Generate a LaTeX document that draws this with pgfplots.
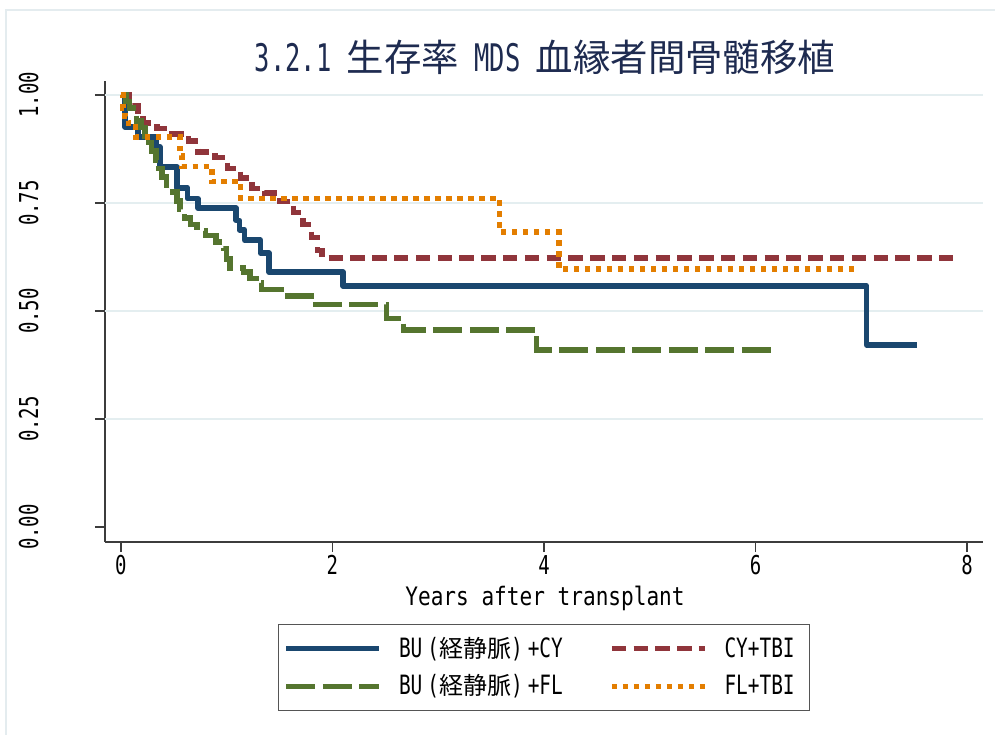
\documentclass[border=0pt]{standalone}
\usepackage{fontspec}
\usepackage{pgfplots}
\pgfplotsset{compat=1.18}
\setmainfont{DejaVu Sans Mono}[FakeStretch=0.83]
\newfontfamily\mono{DejaVu Sans Mono}[FakeStretch=0.83]
\newfontfamily\monob{DejaVu Sans Mono}[FakeStretch=0.73]
\newfontfamily\monoc{DejaVu Sans Mono}[FakeStretch=0.67]
\newfontfamily\cjk{Noto Sans CJK JP}
\definecolor{sblue}{HTML}{1A476F}
\definecolor{sred}{HTML}{90353B}
\definecolor{sgreen}{HTML}{55752F}
\definecolor{sorange}{HTML}{E37E00}
\definecolor{gridcol}{HTML}{E4EEF0}
\definecolor{framecol}{HTML}{E4ECEF}
\definecolor{axcol}{HTML}{3C3C3C}
\definecolor{legcol}{HTML}{555555}
\definecolor{titlecol}{HTML}{1E2B50}
\newcommand\tickfont{\monob\fontsize{13}{15}\selectfont}
\newcommand\legfont{\monob\fontsize{13.3}{15}\selectfont}
\newcommand\lcjk[1]{{\cjk\fontsize{12}{14}\selectfont #1}}
\newcommand\legstrut{\rule[-3.5pt]{0pt}{11.5pt}}
\begin{document}
\begin{tikzpicture}[x=1pt,y=1pt]
\path[use as bounding box] (0,0) rectangle (497.5,367.5);
\draw[framecol, line width=1pt] (3,0) -- (3,362.5) -- (497.5,362.5);
\begin{axis}[
  at={(52.5pt,96.5pt)}, anchor=south west,
  scale only axis, width=439pt, height=230.5pt,
  xmin=-0.15, xmax=8.15, ymin=-0.0347, ymax=1.0324,
  axis x line*=bottom, axis y line*=left,
  axis line style={draw=axcol, line width=0.75pt, -},
  every tick/.style={draw=axcol, line width=0.75pt},
  tick align=outside, major tick length=5pt,
  xtick={0,2,4,6,8}, xticklabels={0,2,4,6,8},
  ytick={0,0.25,0.5,0.75,1}, yticklabels={0.00,0.25,0.50,0.75,1.00},
  extra y ticks={0.25,0.5,0.75,1}, extra y tick labels={},
  extra y tick style={grid=major, major tick length=0pt},
  grid style={draw=gridcol, line width=1pt},
  /pgf/number format/assume math mode=true,
  ticklabel style={font=\tickfont},
  yticklabel style={rotate=90, anchor=south, inner sep=0pt},
  xticklabel style={inner sep=0pt},
  yticklabel shift=28pt,
  xticklabel shift=1.5pt,
  legend columns=2,
  legend style={at={(0.5,-0.178)}, anchor=north, draw=legcol, line width=0.6pt,
    inner xsep=2.5pt, inner ysep=6.2pt, row sep=7.25pt, font=\legfont,
    nodes={inner sep=0pt},
    /tikz/every even column/.append style={column sep=22.5pt},
    /tikz/every odd column/.append style={column sep=8.5pt}},
  legend image code/.code={\draw[#1] (0pt,0pt) -- (46.5pt,0pt);},
  const plot,
]
\addplot[sblue, line width=2.75pt, line join=round] coordinates {
(0,1) (0.04,0.926) (0.16,0.903) (0.33,0.88) (0.37,0.833) (0.53,0.785)
(0.63,0.76) (0.73,0.738) (1.09,0.71) (1.12,0.688) (1.17,0.664) (1.32,0.634)
(1.40,0.59) (2.10,0.558) (7.05,0.421) (7.53,0.421)};
\addlegendentry{\makebox[82.5pt][l]{\legstrut BU\hspace{2.5pt}(\lcjk{経静脈})\hspace{2.5pt}+CY}}
\addplot[sred, line width=2.75pt, dash pattern=on 7.2pt off 3.7pt] coordinates {
(0,1) (0.08,0.98) (0.11,0.975) (0.16,0.962) (0.21,0.935) (0.34,0.922) (0.48,0.91)
(0.64,0.893) (0.70,0.88) (0.73,0.868) (0.89,0.855) (1.01,0.83) (1.13,0.808)
(1.24,0.783) (1.36,0.773) (1.50,0.753) (1.63,0.728) (1.72,0.70) (1.80,0.67)
(1.86,0.64) (1.90,0.623) (7.90,0.623)};
\addlegendentry{\makebox[40pt][l]{\legstrut CY+TBI}}
\addplot[sgreen, line width=2.75pt, dash pattern=on 14.5pt off 3.75pt] coordinates {
(0,1) (0.05,0.985) (0.08,0.97) (0.12,0.955) (0.15,0.94) (0.19,0.925) (0.23,0.905)
(0.26,0.89) (0.29,0.87) (0.33,0.85) (0.36,0.83) (0.39,0.81) (0.43,0.79)
(0.49,0.775) (0.53,0.755) (0.56,0.735) (0.60,0.715) (0.66,0.70) (0.72,0.685)
(0.80,0.675) (0.90,0.66) (0.97,0.645) (1.00,0.62) (1.03,0.60) (1.16,0.59)
(1.22,0.575) (1.28,0.565) (1.33,0.55) (1.58,0.535) (1.84,0.515) (2.51,0.483)
(2.67,0.456) (3.93,0.41) (6.16,0.41)};
\addlegendentry{\makebox[82.5pt][l]{\legstrut BU\hspace{2.5pt}(\lcjk{経静脈})\hspace{2.5pt}+FL}}
\addplot[sorange, line width=2.75pt, dash pattern=on 2.75pt off 2.75pt] coordinates {
(0,1) (0.02,0.97) (0.04,0.95) (0.07,0.935) (0.14,0.903) (0.56,0.86) (0.58,0.835)
(0.86,0.80) (1.13,0.76) (3.58,0.683) (4.14,0.597) (6.97,0.597)};
\addlegendentry{\makebox[40pt][l]{\legstrut FL+TBI}}
\end{axis}
\node[text=titlecol] at (272.5,339)
  {{\monoc\fontsize{19}{22}\selectfont 3.2.1\ }{\cjk\fontsize{18.7}{22}\selectfont 生存率}{\monoc\fontsize{19}{22}\selectfont\ MDS\ }{\cjk\fontsize{18.7}{22}\selectfont 血縁者間骨髄移植}};
\node[anchor=base, font=\mono\fontsize{12.7}{14}\selectfont] at (272.5,65)
  {Years after transplant};
\end{tikzpicture}
\end{document}
